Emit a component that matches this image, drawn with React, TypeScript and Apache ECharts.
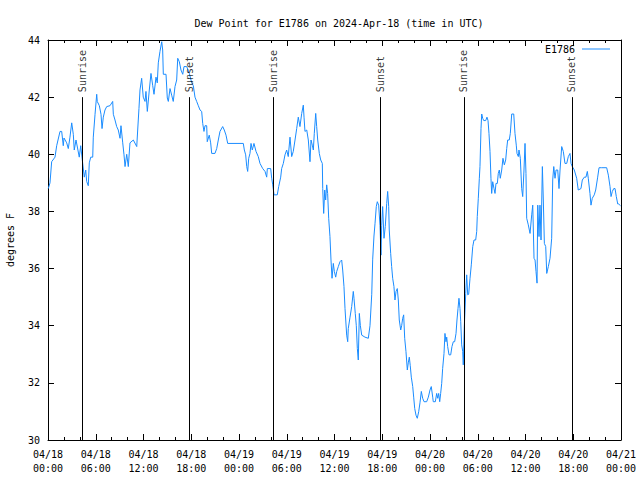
import React, { useEffect, useRef } from "react";
import * as echarts from "echarts";

const titleText = "Dew Point for E1786 on 2024-Apr-18 (time in UTC)";
const seriesName = "E1786";
const yAxisName = "degrees F";
const yTicks = [30, 32, 34, 36, 38, 40, 42, 44];

// [hours since 2024-04-18 00:00 UTC, dew point °F]
const day1: [number, number][] = [
  [0.04,38.8],[0.25,39.0],[0.46,39.74],[0.88,39.9],[1.09,40.3],[1.51,40.8],[1.72,40.8],[1.92,40.3],[2.01,40.57],[2.35,40.4],[2.55,40.2],[2.76,40.6],[2.98,41.1],[3.18,40.7],[3.30,40.15],[3.52,40.5],[3.93,39.9],[4.11,40.3],[4.31,39.8],[4.56,39.2],[4.74,39.45],[4.86,39.05],[5.06,38.9],[5.19,39.7],[5.37,39.9],[5.62,39.9],[5.69,40.6],[5.91,41.4],[6.12,42.1],[6.19,41.85],[6.45,41.7],[6.66,41.4],[6.79,40.9],[6.95,41.3],[7.16,41.55],[7.38,41.67],[7.79,41.7],[8.13,41.85],[8.21,41.4],[8.42,41.2],[8.63,40.97],[8.83,40.85],[9.05,40.56],[9.17,41.0],[9.39,40.4],[9.55,39.98],[9.68,39.57],[9.89,40.0],[10.09,39.57],[10.30,40.4],[10.72,40.5],[11.15,40.27],[11.27,40.85],[11.43,41.6],[11.56,42.25],[11.77,42.66],[11.97,42.0],[12.19,41.85],[12.31,42.2],[12.48,41.5],[12.73,42.25],[12.94,42.83],[13.16,42.4],[13.32,42.1],[13.57,42.7],[13.73,42.5],[13.86,43.2],[14.07,43.6],[14.29,43.94],[14.41,43.65],[14.49,42.8],[14.83,42.8],[14.99,41.97],[15.12,41.85],[15.33,42.3],[15.54,42.07],[15.74,41.85],[15.96,42.37],[16.17,42.6],[16.30,43.36],[16.50,43.24],[16.71,42.95],[16.93,42.8],[17.09,43.07],[17.43,43.07],[17.76,42.83],[18.06,42.5],[18.26,42.4],[18.47,42.0],[18.68,41.85],[18.89,41.7],[19.10,41.55],[19.31,41.5],[19.44,41.08],[19.60,40.8],[19.73,41.0],[19.94,41.0],[20.01,40.44],[20.26,40.67],[20.44,40.4],[20.57,40.03],[20.98,40.03],[21.20,40.2],[21.40,40.5],[21.61,40.8],[21.95,40.97],[22.15,40.85],[22.37,40.67],[22.58,40.38]
];
const day2: [number, number][] = [
  [24.54,40.38],[24.67,40.15],[24.84,39.98],[24.97,39.57],[25.09,39.4],[25.22,39.86],[25.38,40.03],[25.51,40.38],[25.67,40.15],[25.88,40.38],[26.14,40.1],[26.42,39.92],[26.64,39.68],[26.98,39.5],[27.27,39.4],[27.48,39.2],[27.56,39.5],[27.98,39.5],[28.11,39.16],[28.24,38.93],[28.40,38.58],[28.81,38.58],[28.99,38.87],[29.24,39.2],[29.36,39.5],[29.57,39.68],[29.78,39.98],[29.99,40.15],[30.19,39.92],[30.41,40.6],[30.62,39.92],[30.82,40.1],[31.04,40.5],[31.25,40.9],[31.45,41.3],[31.66,40.97],[31.88,41.43],[32.08,41.72],[32.17,41.3],[32.29,40.8],[32.51,40.85],[32.71,40.5],[32.92,39.74],[33.05,40.5],[33.21,40.32],[33.34,40.15],[33.46,40.73],[33.64,41.43],[33.76,40.97],[33.89,40.5],[34.09,40.03],[34.27,39.8],[34.47,39.68],[34.52,38.8],[34.64,37.93],[34.77,38.75],[34.89,38.4],[35.02,38.93],[35.14,38.63],[35.27,37.76],[35.43,37.12],[35.56,36.3],[35.69,35.66],[35.85,36.18],[35.98,35.9],[36.15,35.7],[36.28,35.9],[36.48,36.07],[36.69,36.24],[36.90,36.3],[37.03,35.95],[37.19,35.37],[37.32,34.6],[37.53,33.67],[37.66,33.44],[37.73,33.9],[37.95,34.3],[38.16,34.67],[38.36,35.2],[38.45,34.96],[38.61,34.43],[38.74,34.0],[38.87,33.2],[38.99,32.8],[39.12,34.43],[39.25,34.0],[39.42,33.67],[39.83,33.6],[40.25,33.56],[40.46,34.0],[40.68,35.1],[40.80,36.33],[40.96,37.14],[41.09,37.57],[41.25,38.17],[41.38,38.34],[41.55,38.22],[41.72,37.5],[41.84,36.47],[41.93,37.5],[42.05,38.17],[42.22,37.06],[42.38,37.47],[42.56,38.28],[42.68,38.7],[42.81,38.17],[42.88,37.35],[43.06,36.53],[43.18,36.07],[43.31,35.66],[43.47,35.37],[43.60,34.9],[43.73,35.2],[43.89,35.3],[44.02,34.9],[44.14,34.2],[44.32,33.85],[44.44,34.0],[44.57,34.26],[44.69,34.38],[44.82,33.56],[44.98,33.1],[45.15,32.45],[45.27,32.7],[45.40,32.9],[45.52,32.6],[45.65,32.2],[45.83,31.87],[45.95,31.5],[46.08,31.1],[46.24,30.87],[46.40,30.76],[46.58,30.99],[46.74,31.3],[46.91,31.7],[47.08,31.46],[47.25,31.34],[47.58,31.34],[47.79,31.5]
];
const day3: [number, number][] = [
  [48.00,31.75],[48.16,31.87],[48.34,31.5],[48.41,31.34],[48.67,31.34],[48.84,31.63],[48.97,31.46],[49.09,31.63],[49.22,31.34],[49.34,31.63],[49.47,31.98],[49.59,32.5],[49.76,33.03],[49.88,33.73],[50.01,33.44],[50.10,33.6],[50.22,33.27],[50.39,32.98],[50.60,32.98],[50.76,33.27],[50.93,33.44],[51.10,33.44],[51.27,33.73],[51.39,34.2],[51.52,34.6],[51.64,34.96],[51.77,34.6],[51.86,34.14],[51.98,33.33],[52.11,33.1],[52.18,32.63],[52.31,33.97],[52.49,35.13],[52.61,35.78],[52.74,35.08],[52.86,35.1],[53.03,35.66],[53.19,36.13],[53.37,36.77],[53.53,37.0],[53.74,37.0],[53.87,37.3],[53.94,37.82],[54.07,38.46],[54.20,39.16],[54.28,39.57],[54.41,40.9],[54.50,41.41],[54.62,41.26],[54.75,41.18],[55.00,41.18],[55.16,41.3],[55.29,41.18],[55.41,40.73],[55.54,40.1],[55.66,39.16],[55.75,38.63],[55.88,39.04],[56.04,38.8],[56.17,38.63],[56.29,38.98],[56.46,38.98],[56.58,39.33],[56.71,39.45],[56.83,39.16],[57.01,39.45],[57.17,39.86],[57.34,39.63],[57.51,39.8],[57.64,40.2],[57.76,40.5],[57.96,40.5],[58.09,40.73],[58.27,41.41],[58.52,41.41],[58.68,40.73],[58.84,40.32],[58.93,40.03],[59.10,39.92],[59.18,40.15],[59.35,39.86],[59.52,38.8],[59.65,38.52],[59.81,39.45],[59.94,40.38],[60.06,39.33],[60.15,37.76],[60.35,37.53],[60.57,37.23],[60.78,37.88],[60.91,38.22],[61.07,36.36],[61.20,36.3],[61.32,35.9],[61.45,35.49],[61.54,38.22],[61.70,37.12],[61.82,38.22],[61.95,37.0],[62.12,39.57],[62.24,38.4],[62.37,36.88],[62.54,36.77],[62.67,35.83],[62.87,36.07],[63.08,36.36],[63.29,37.06],[63.42,39.1],[63.55,39.57],[63.71,39.16],[63.84,39.45],[64.05,39.45],[64.21,38.8],[64.34,39.45],[64.55,40.27],[64.75,40.1],[64.96,39.68],[65.18,39.68],[65.38,39.92],[65.59,40.03],[65.72,39.68],[65.88,39.57],[66.13,39.45],[66.43,39.16],[66.63,38.75],[66.97,38.8],[67.14,39.1],[67.39,39.2],[67.60,39.2],[67.77,39.4],[67.89,39.16],[68.10,38.63],[68.23,38.22],[68.39,38.46],[68.64,38.58],[68.82,38.75],[69.07,39.2],[69.24,39.53],[69.58,39.53],[70.20,39.53],[70.41,39.27],[70.62,38.87],[70.75,38.52],[70.91,38.7],[71.09,38.8],[71.25,38.8],[71.41,38.52],[71.59,38.26],[71.71,38.26],[71.94,38.2]
];

const sunHours = [4.31, 17.78, 28.29, 41.8, 52.27, 65.84];
const sunLabels = ["Sunrise", "Sunset", "Sunrise", "Sunset", "Sunrise", "Sunset"];
const sunLineTop = 42;

const FONT = "DejaVu Sans Mono";
const LINE_COLOR = "#1a8cff";

function fmtX(v: number): string {
  const d = 18 + Math.floor(v / 24);
  const hh = Math.round(v % 24);
  const p = (n: number) => (n < 10 ? "0" + n : "" + n);
  return `04/${p(d)}\n${p(hh)}:00`;
}

export default function App() {
  const ref = useRef<HTMLDivElement>(null);
  useEffect(() => {
    if (!ref.current) return;
    const chart = echarts.init(ref.current, undefined, { renderer: "svg" });
    const data = [...day1, ...day2, ...day3];
    const axisBase = {
      type: "value" as const,
      min: 0,
      max: 72,
      interval: 6,
      axisLine: { show: true, onZero: false, lineStyle: { color: "#000", width: 1 } },
      axisTick: { show: true, inside: true, length: 6, lineStyle: { color: "#000" } },
      minorTick: { show: true, splitNumber: 3, length: 3, lineStyle: { color: "#000" } },
      splitLine: { show: false },
    };
    const yBase = {
      type: "value" as const,
      min: yTicks[0],
      max: yTicks[yTicks.length - 1],
      interval: 2,
      axisLine: { show: true, onZero: false, lineStyle: { color: "#000", width: 1 } },
      axisTick: { show: true, inside: true, length: 6, lineStyle: { color: "#000" } },
      splitLine: { show: false },
    };
    chart.setOption({
      animation: false,
      backgroundColor: "#fff",
      title: {
        text: titleText,
        left: 334,
        textAlign: "center",
        top: 13,
        textStyle: { fontFamily: FONT, fontSize: 10, fontWeight: "normal", color: "#000" },
      },
      legend: {
        data: [{ name: seriesName, icon: "rect" }],
        right: 25,
        top: 39,
        align: "right",
        itemWidth: 28,
        itemHeight: 1,
        itemGap: 7,
        textStyle: { fontFamily: FONT, fontSize: 10, color: "#000", padding: [0, 2, 0, 0] },
      },
      grid: { left: 48, right: 19, top: 40, bottom: 40, containLabel: false, outerBoundsMode: "none" },
      xAxis: [
        {
          ...axisBase,
          position: "bottom",
          axisLabel: {
            show: true,
            margin: 7,
            formatter: fmtX,
            fontFamily: FONT,
            fontSize: 10,
            color: "#000",
            lineHeight: 14,
          },
        },
        { ...axisBase, position: "top", axisLabel: { show: false } },
      ],
      yAxis: [
        {
          ...yBase,
          position: "left",
          name: yAxisName,
          nameLocation: "middle",
          nameRotate: 90,
          nameGap: 33,
          nameTextStyle: { fontFamily: FONT, fontSize: 10, color: "#000" },
          axisLabel: { show: true, margin: 8, fontFamily: FONT, fontSize: 10, color: "#000" },
        },
        { ...yBase, position: "right", axisLabel: { show: false } },
      ],
      series: [
        {
          name: seriesName,
          type: "line",
          data,
          symbol: "none",
          showSymbol: false,
          lineStyle: { color: LINE_COLOR, width: 1 },
          itemStyle: { color: LINE_COLOR },
          xAxisIndex: 0,
          yAxisIndex: 0,
          z: 3,
        },
        {
          name: "sun",
          type: "scatter",
          data: sunHours.map((h) => [h, sunLineTop]),
          symbol: "circle",
          symbolSize: 0,
          itemStyle: { color: "#000" },
          silent: true,
          z: 4,
          label: {
            show: true,
            position: "top",
            distance: 5,
            rotate: 90,
            align: "left",
            verticalAlign: "middle",
            formatter: (p: any) => sunLabels[p.dataIndex],
            fontFamily: FONT,
            fontSize: 10,
            color: "#000",
          },
          markLine: {
            silent: true,
            symbol: "none",
            label: { show: false },
            lineStyle: { color: "#000", width: 1, type: "solid" },
            data: sunHours.map((h) => [
              { coord: [h, sunLineTop] },
              { coord: [h, yTicks[0]] },
            ]),
          },
        },
      ],
    });
    return () => chart.dispose();
  }, []);
  return (
    <div
      ref={ref}
      style={{ position: "fixed", left: 0, top: 0, width: 640, height: 480, background: "#fff" }}
    />
  );
}
